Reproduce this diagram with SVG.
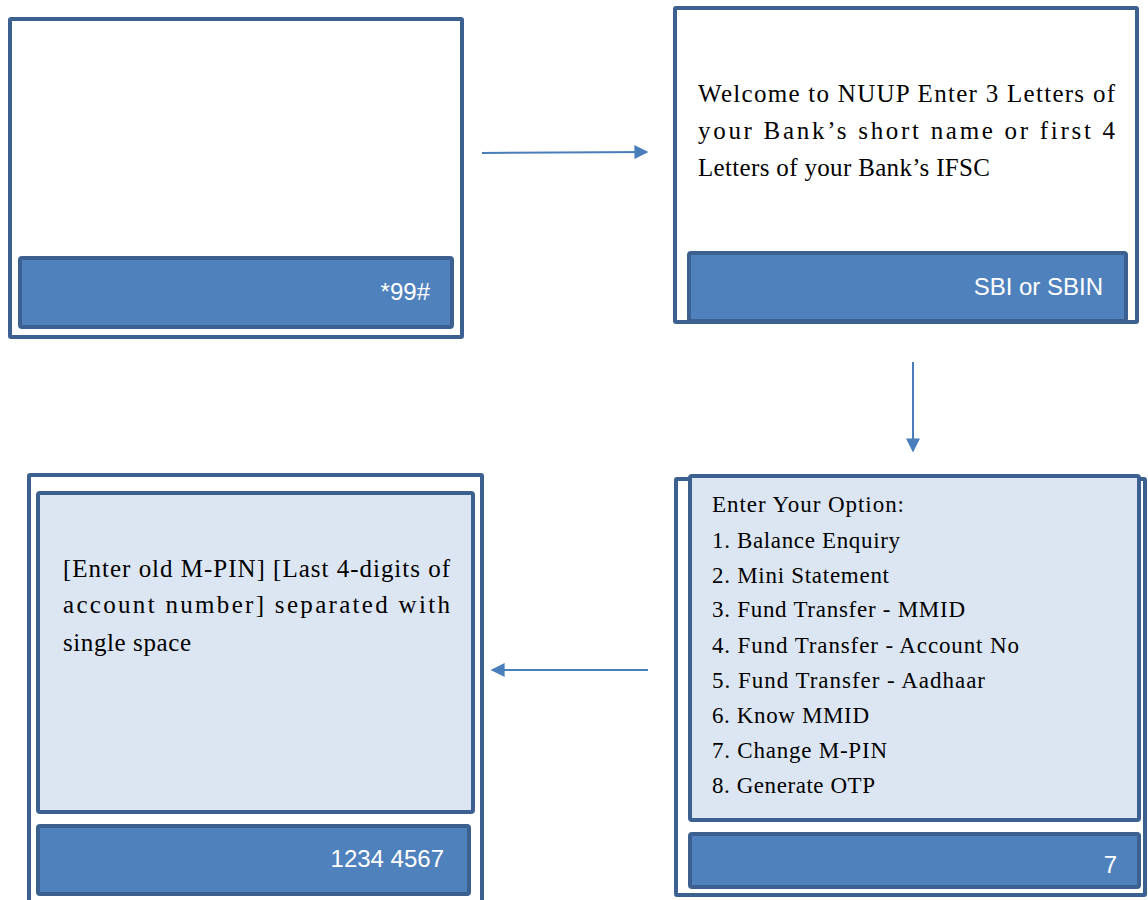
<svg xmlns="http://www.w3.org/2000/svg" width="1148" height="900" viewBox="0 0 1148 900">
  <defs>
    <style>
      .frame { fill: #ffffff; stroke: #3c6190; stroke-width: 4; }
      .panel { fill: #dce6f2; stroke: #3c6190; stroke-width: 4; }
      .bar { fill: #4f81bd; stroke: #3c6190; stroke-width: 4; }
      .key { font-family: "Liberation Sans", Arial, sans-serif; font-size: 24px; fill: #ffffff; text-anchor: end; }
      .msg { font-family: "Liberation Serif", "Times New Roman", serif; font-size: 25px; fill: #000000; }
      .menu { font-family: "Liberation Serif", "Times New Roman", serif; font-size: 23px; fill: #000000; }
      .conn { stroke: #4a7ebb; stroke-width: 2; fill: none; }
    </style>
    <marker id="arrowhead" viewBox="0 0 10 10" refX="9" refY="5" markerWidth="15" markerHeight="14" orient="auto" markerUnits="userSpaceOnUse">
      <path d="M0,0 L10,5 L0,10 Z" fill="#4a7ebb"/>
    </marker>
  </defs>

  <g id="screen-dial">
    <rect class="frame" x="10" y="19" width="452" height="318" rx="1"/>
    <rect class="bar" x="20" y="258" width="432" height="69" rx="2"/>
    <text class="key" x="430" y="300">*99#</text>
  </g>

  <g id="screen-welcome">
    <rect class="frame" x="675" y="8" width="462" height="314" rx="1"/>
    <rect class="bar" x="689" y="253" width="437" height="68" rx="2"/>
    <text class="msg" x="698" y="102" textLength="417" lengthAdjust="spacing">Welcome to NUUP Enter 3 Letters of</text>
    <text class="msg" x="698" y="139" textLength="417" lengthAdjust="spacing">your Bank’s short name or first 4</text>
    <text class="msg" x="698" y="176" textLength="292" lengthAdjust="spacing">Letters of your Bank’s IFSC</text>
    <text class="key" x="1103" y="295">SBI or SBIN</text>
  </g>

  <g id="screen-menu">
    <rect class="frame" x="676" y="479" width="469" height="416" rx="1"/>
    <rect class="panel" x="690" y="476" width="449" height="344" rx="2"/>
    <rect class="bar" x="690" y="834" width="449" height="53" rx="2"/>
    <text class="menu" x="712" y="512" textLength="192" lengthAdjust="spacing">Enter Your Option:</text>
    <text class="menu" x="712" y="548" textLength="188" lengthAdjust="spacing">1. Balance Enquiry</text>
    <text class="menu" x="712" y="583" textLength="177" lengthAdjust="spacing">2. Mini Statement</text>
    <text class="menu" x="712" y="617" textLength="253" lengthAdjust="spacing">3. Fund Transfer - MMID</text>
    <text class="menu" x="712" y="653" textLength="307" lengthAdjust="spacing">4. Fund Transfer - Account No</text>
    <text class="menu" x="712" y="688" textLength="273" lengthAdjust="spacing">5. Fund Transfer - Aadhaar</text>
    <text class="menu" x="712" y="723" textLength="157" lengthAdjust="spacing">6. Know MMID</text>
    <text class="menu" x="712" y="758" textLength="175" lengthAdjust="spacing">7. Change M-PIN</text>
    <text class="menu" x="712" y="793" textLength="163" lengthAdjust="spacing">8. Generate OTP</text>
    <text class="key" x="1117" y="873">7</text>
  </g>

  <g id="screen-mpin">
    <rect class="frame" x="29" y="475" width="453" height="440" rx="1"/>
    <rect class="panel" x="38" y="493" width="435" height="319" rx="2"/>
    <rect class="bar" x="38" y="826" width="431" height="68" rx="2"/>
    <text class="msg" x="63" y="577" textLength="387" lengthAdjust="spacing">[Enter old M-PIN] [Last 4-digits of</text>
    <text class="msg" x="63" y="613" textLength="387" lengthAdjust="spacing">account number] separated with</text>
    <text class="msg" x="63" y="651" textLength="128" lengthAdjust="spacing">single space</text>
    <text class="key" x="444" y="867">1234 4567</text>
  </g>

  <g id="connectors">
    <line class="conn" x1="482" y1="153" x2="647" y2="152" marker-end="url(#arrowhead)"/>
    <line class="conn" x1="913" y1="362" x2="913" y2="451" marker-end="url(#arrowhead)"/>
    <line class="conn" x1="648" y1="670" x2="492" y2="670" marker-end="url(#arrowhead)"/>
  </g>
</svg>
